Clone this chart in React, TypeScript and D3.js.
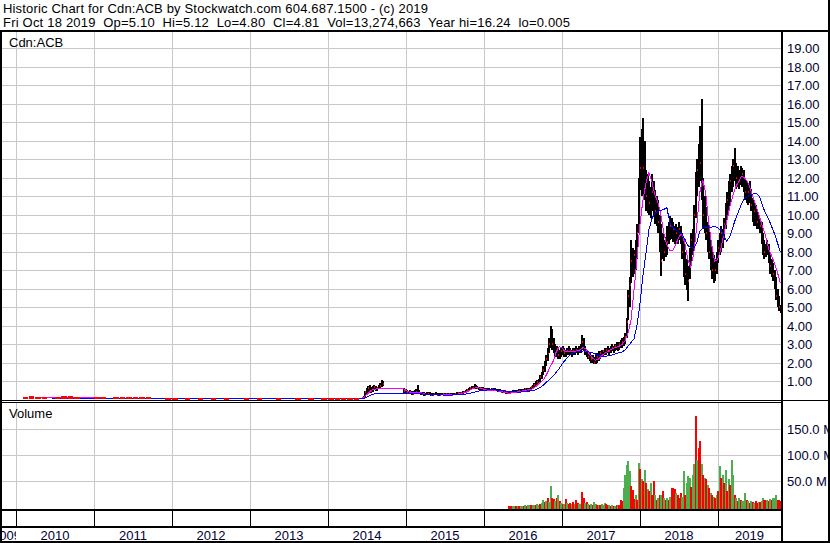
import React from "react";
import * as d3 from "d3";

// ---------- text / tick labels ----------
const TITLE_1 = "Historic Chart for Cdn:ACB by Stockwatch.com 604.687.1500 - (c) 2019";
const TITLE_2 =
  "Fri Oct 18 2019  Op=5.10  Hi=5.12  Lo=4.80  Cl=4.81  Vol=13,274,663  Year hi=16.24  lo=0.005";
const YEARS = [2009, 2010, 2011, 2012, 2013, 2014, 2015, 2016, 2017, 2018, 2019];
const PRICE_TICKS = [1, 2, 3, 4, 5, 6, 7, 8, 9, 10, 11, 12, 13, 14, 15, 16, 17, 18, 19];
const VOLUME_TICKS = [50, 100, 150];

// ---------- early monthly ranges (Feb 2010 .. May 2014), null = no trades ----------
const earlyHigh: (number | null)[] = [
  0.16, 0.17, 0.16, 0.15, null, 0.15, 0.17, 0.18, 0.16, null, null,
  0.13, 0.13, null, 0.12, 0.12, 0.11, 0.12, 0.12, 0.12, null, null, 0.1,
  0.1, null, 0.08, null, 0.08, null, 0.08, null, 0.08, null, null, 0.06,
  null, 0.06, null, null, 0.06, null, null, 0.06, null, 0.06, null, 0.06,
  0.08, 0.08, 0.1, 0.1, 0.1,
];
const earlyLow: (number | null)[] = [
  0.03, 0.04, 0.04, 0.03, null, 0.04, 0.05, 0.05, 0.04, null, null,
  0.03, 0.03, null, 0.03, 0.03, 0.02, 0.03, 0.02, 0.02, null, null, 0.02,
  0.02, null, 0.02, null, 0.02, null, 0.02, null, 0.01, null, null, 0.01,
  null, 0.01, null, null, 0.01, null, null, 0.01, null, 0.01, null, 0.01,
  0.02, 0.02, 0.03, 0.03, 0.04,
];

// ---------- weekly bars from 2014-06-13 to 2019-10-18 ----------
const N13 = [null, null, null, null, null, null, null, null, null, null, null, null, null];
const weekHigh: (number | null)[] = [
  0.2, 0.45, 0.62, 0.75, 0.78, 0.7, 0.72, 0.78, 0.75, 0.7, 0.8, 0.9, 1.05, 1.0,
  ...N13,
  0.62, 0.55, 0.5, 0.48, 0.5, 0.45, 0.45, 0.5, 0.55, 0.78,
  0.5, 0.42, 0.4, 0.38, 0.35, 0.38, 0.4, 0.38, 0.35, 0.35, 0.36, 0.38, 0.36, 0.35, 0.34, 0.36,
  0.35, 0.34, 0.35, 0.36, 0.35, 0.34, 0.33, 0.34, 0.36, 0.38, 0.38, 0.4, 0.42, 0.45, 0.48, 0.5, 0.55,
  0.6, 0.68, 0.72, 0.75, 0.84, 0.8, 0.75, 0.7,
  0.68, 0.66, 0.65, 0.62, 0.6, 0.62, 0.6, 0.58, 0.6, 0.62, 0.6, 0.58, 0.56, 0.55, 0.52, 0.5, 0.48, 0.46, 0.45, 0.45,
  0.46, 0.48, 0.5, 0.52, 0.5, 0.52, 0.55, 0.55, 0.56, 0.58, 0.6, 0.62, 0.6, 0.62, 0.7,
  0.8, 0.9, 1.0, 1.05, 1.1, 1.3, 1.5, 1.8, 2.1, 2.4, 2.8, 3.3, 4.0, 3.8, 3.3,
  3.0, 2.9, 2.8, 2.7, 2.8, 2.9, 2.8, 2.7, 2.8, 2.9, 2.8, 2.7, 2.8, 2.8, 2.9, 2.8, 2.9, 3.0,
  3.5, 3.3, 2.9, 2.7,
  2.6, 2.5, 2.4, 2.4, 2.3, 2.4, 2.5, 2.6, 2.6, 2.7, 2.7,
  2.8, 2.8, 2.9, 2.8, 2.9, 3.0, 2.9, 3.0, 3.1, 3.0, 3.1, 3.2, 3.3, 3.4, 3.6,
  4.4, 5.9, 6.6, 8.6, 8.2, 8.1, 8.6, 9.5, 12.0, 14.2, 14.6, 15.2, 14.0,
  12.4, 12.2, 11.8, 11.5, 12.2, 11.8, 11.3, 11.0, 10.8, 10.0, 9.5,
  9.0, 8.6, 8.8, 9.4, 9.6, 9.9, 9.8, 9.6, 9.4, 9.5, 9.3, 9.6, 9.4,
  9.0, 8.6, 8.0, 7.6, 7.2, 8.2, 9.0, 9.2, 10.5, 12.3, 13.0,
  13.8, 14.8, 16.24, 12.0, 11.0, 10.4, 9.6, 9.2, 8.6, 8.1, 7.8, 7.6,
  8.0, 8.6, 9.0, 9.4, 9.2, 9.8, 10.6, 11.2, 11.8, 12.2, 12.6, 13.0,
  13.6, 12.8, 12.6, 12.4, 12.6, 12.5, 12.4, 12.0, 11.8, 11.6, 11.8, 11.4,
  10.9, 10.6, 10.5, 10.2, 10.0, 9.8, 9.6, 9.0, 8.6, 8.4, 8.6,
  8.4, 7.8, 7.6, 7.4, 7.0, 6.6, 6.0, 5.6, 5.12,
];
const weekLow: (number | null)[] = [
  0.05, 0.12, 0.3, 0.4, 0.45, 0.35, 0.4, 0.5, 0.45, 0.45, 0.55, 0.6, 0.7, 0.75,
  ...N13,
  0.35, 0.32, 0.3, 0.28, 0.3, 0.25, 0.24, 0.28, 0.3, 0.35,
  0.3, 0.25, 0.22, 0.2, 0.2, 0.22, 0.25, 0.22, 0.2, 0.2, 0.22, 0.24, 0.22, 0.2, 0.2, 0.22,
  0.24, 0.24, 0.25, 0.26, 0.25, 0.24, 0.24, 0.25, 0.26, 0.28, 0.28, 0.3, 0.3, 0.32, 0.35, 0.38, 0.4,
  0.45, 0.5, 0.55, 0.55, 0.6, 0.58, 0.55, 0.52,
  0.5, 0.5, 0.48, 0.46, 0.45, 0.48, 0.46, 0.44, 0.45, 0.48, 0.46, 0.44, 0.42, 0.4, 0.38, 0.36, 0.34, 0.32, 0.3, 0.3,
  0.32, 0.33, 0.35, 0.36, 0.36, 0.38, 0.4, 0.42, 0.42, 0.44, 0.45, 0.46, 0.45, 0.48, 0.5,
  0.55, 0.65, 0.7, 0.8, 0.85, 0.95, 1.1, 1.3, 1.5, 1.8, 2.1, 2.5, 2.8, 2.7, 2.5,
  2.3, 2.3, 2.2, 2.2, 2.3, 2.4, 2.3, 2.3, 2.4, 2.4, 2.4, 2.3, 2.4, 2.4, 2.5, 2.4, 2.5, 2.5,
  2.7, 2.6, 2.4, 2.3,
  2.2, 2.1, 2.0, 2.0, 1.9, 1.9, 2.0, 2.1, 2.2, 2.3, 2.3,
  2.4, 2.4, 2.5, 2.4, 2.5, 2.6, 2.5, 2.6, 2.7, 2.6, 2.7, 2.8, 2.8, 2.9, 3.0,
  3.3, 4.3, 5.0, 6.3, 6.6, 6.8, 7.0, 7.6, 9.0, 11.3, 11.0, 11.0, 10.8,
  10.2, 10.1, 10.0, 9.8, 10.2, 10.0, 9.5, 9.4, 9.0, 8.0, 6.7,
  7.6, 7.5, 7.7, 7.8, 8.4, 8.6, 8.7, 8.5, 8.4, 8.5, 8.4, 8.6, 8.4,
  7.6, 6.6, 6.2, 5.9, 5.3, 6.5, 7.5, 7.8, 8.3, 9.8, 11.0,
  11.5, 11.8, 10.8, 9.2, 9.0, 8.6, 8.0, 7.6, 7.0, 6.5, 6.3, 6.4,
  6.8, 7.4, 7.8, 8.0, 8.2, 8.6, 9.2, 9.8, 10.2, 10.6, 11.2, 11.5,
  11.8, 11.4, 11.5, 11.4, 11.6, 11.5, 11.2, 10.8, 10.6, 10.5, 10.6, 10.2,
  9.6, 9.4, 9.4, 9.2, 9.2, 9.0, 8.4, 7.8, 7.6, 7.7, 7.8,
  7.4, 6.8, 6.6, 6.4, 6.0, 5.4, 5.0, 4.8, 4.7,
];
const weekClose: (number | null)[] = [
  0.15, 0.4, 0.5, 0.6, 0.55, 0.45, 0.6, 0.65, 0.55, 0.6, 0.7, 0.75, 0.9, 0.85,
  ...N13,
  0.45, 0.4, 0.38, 0.35, 0.4, 0.32, 0.3, 0.35, 0.4, 0.45,
  0.35, 0.3, 0.28, 0.25, 0.25, 0.3, 0.3, 0.27, 0.25, 0.24, 0.28, 0.3, 0.26, 0.25, 0.24, 0.28,
  0.3, 0.28, 0.3, 0.32, 0.3, 0.28, 0.27, 0.3, 0.32, 0.33, 0.34, 0.35, 0.36, 0.4, 0.42, 0.45, 0.5,
  0.55, 0.6, 0.65, 0.62, 0.7, 0.65, 0.6, 0.58,
  0.6, 0.58, 0.55, 0.5, 0.52, 0.55, 0.52, 0.5, 0.55, 0.55, 0.52, 0.48, 0.46, 0.45, 0.42, 0.4, 0.38, 0.36, 0.34, 0.35,
  0.38, 0.4, 0.42, 0.45, 0.42, 0.46, 0.48, 0.5, 0.48, 0.52, 0.55, 0.56, 0.52, 0.58, 0.65,
  0.7, 0.8, 0.9, 0.95, 1.0, 1.2, 1.4, 1.6, 1.9, 2.2, 2.5, 3.0, 3.4, 3.0, 2.7,
  2.5, 2.6, 2.4, 2.5, 2.6, 2.7, 2.5, 2.5, 2.6, 2.7, 2.6, 2.5, 2.6, 2.7, 2.7, 2.6, 2.7, 2.8,
  3.1, 2.8, 2.6, 2.5,
  2.3, 2.2, 2.2, 2.1, 2.0, 2.2, 2.3, 2.4, 2.5, 2.5, 2.6,
  2.6, 2.7, 2.7, 2.6, 2.8, 2.8, 2.7, 2.9, 2.9, 2.8, 3.0, 3.0, 3.1, 3.2, 3.4,
  4.2, 5.6, 6.2, 7.5, 7.4, 7.8, 8.0, 9.0, 11.5, 12.5, 13.0, 12.5, 12.0,
  11.0, 11.5, 10.6, 10.8, 11.2, 10.5, 10.2, 10.0, 9.6, 8.5, 7.5,
  8.2, 8.0, 8.2, 8.5, 9.2, 9.4, 9.0, 9.2, 8.8, 9.0, 8.9, 9.2, 8.8,
  8.0, 7.0, 6.8, 6.5, 6.4, 7.8, 8.6, 8.4, 10.0, 11.8, 12.4,
  13.0, 12.8, 11.5, 10.0, 9.6, 9.0, 8.4, 8.0, 7.4, 7.0, 6.8, 7.0,
  7.6, 8.2, 8.4, 9.0, 8.8, 9.5, 10.2, 10.8, 11.0, 11.8, 12.2, 12.6,
  12.2, 12.0, 12.2, 11.8, 12.0, 12.2, 11.6, 11.2, 11.0, 11.2, 11.4, 10.5,
  10.0, 10.2, 9.8, 9.6, 9.6, 9.4, 8.6, 8.2, 8.0, 8.2, 8.4,
  7.6, 7.2, 7.0, 6.8, 6.4, 5.6, 5.2, 5.0, 4.81,
];

// ---------- moving averages ----------
// early monthly (Feb 2010 .. Dec 2013)
const ma1Early: (number | null)[] = [
  null, null, 0.12, 0.12, 0.12, 0.12, 0.12, 0.12, 0.12, 0.12, 0.12, 0.12,
  0.1, 0.1, 0.1, 0.1, 0.1, 0.1, 0.1, 0.1, 0.1, 0.1, 0.1, 0.1,
  0.08, 0.08, 0.08, 0.08, 0.08, 0.08, 0.08, 0.08, 0.08, 0.08, 0.08, 0.08,
  0.07, 0.07, 0.07, 0.07, 0.07, 0.07, 0.07, 0.07, 0.07, 0.07, 0.07,
];
const ma2Early: (number | null)[] = [
  null, null, null, null, 0.07, 0.07, 0.07, 0.07, 0.07, 0.07, 0.07, 0.07,
  0.07, 0.07, 0.07, 0.07, 0.07, 0.07, 0.07, 0.07, 0.07, 0.07, 0.07, 0.07,
  0.06, 0.06, 0.06, 0.06, 0.06, 0.06, 0.06, 0.06, 0.06, 0.06, 0.06, 0.06,
  0.06, 0.06, 0.06, 0.06, 0.06, 0.06, 0.06, 0.06, 0.06, 0.06, 0.06,
];
// biweekly from 2014-01-03
const ma1: number[] = [
  0.1, 0.1, 0.1, 0.1, 0.1, 0.1, 0.1, 0.1, 0.1, 0.1, 0.1, 0.1,
  0.2, 0.35, 0.5, 0.58, 0.6, 0.6, 0.6,
  0.6, 0.6, 0.6, 0.6, 0.6, 0.6, 0.6,
  0.5, 0.42, 0.4, 0.4, 0.42, 0.38, 0.33, 0.3, 0.3, 0.28, 0.28, 0.28, 0.29, 0.29, 0.3, 0.29, 0.3, 0.32, 0.34, 0.38, 0.43, 0.52, 0.6, 0.66,
  0.65, 0.62, 0.56, 0.53, 0.52, 0.53, 0.52, 0.48, 0.44, 0.4, 0.37, 0.38, 0.41, 0.44, 0.47, 0.5, 0.53, 0.56, 0.6, 0.7, 0.85, 1.0, 1.15, 1.45, 1.8, 2.1,
  2.6, 2.9, 2.8, 2.6, 2.6, 2.6, 2.6, 2.65, 2.7, 2.85, 2.75, 2.5, 2.3, 2.15, 2.2, 2.35, 2.5, 2.6, 2.7, 2.8, 2.85, 2.9, 3.0, 3.2,
  3.6, 4.3, 5.9, 7.6, 9.5, 10.8, 11.7, 12.3, 11.8, 11.1, 10.7, 10.0, 9.0, 8.4, 8.1, 8.1, 8.4, 8.8, 9.0, 8.5,
  7.6, 7.2, 7.9, 9.4, 11.2, 11.9, 11.2, 9.6, 8.4, 7.5, 7.6, 8.1, 8.9, 9.6, 10.4, 11.0, 11.5, 11.8, 12.1, 12.0,
  11.8, 11.4, 10.9, 10.4, 9.9, 9.4, 8.9, 8.2, 7.8, 7.4, 6.9, 6.3,
];
const ma2: number[] = [
  0.06, 0.06, 0.06, 0.06, 0.06, 0.06, 0.06, 0.06, 0.06, 0.06, 0.06, 0.06,
  0.1, 0.18, 0.26, 0.32, 0.34, 0.35, 0.36,
  0.36, 0.36, 0.36, 0.36, 0.36, 0.36, 0.36,
  0.38, 0.36, 0.34, 0.34, 0.33, 0.33, 0.32, 0.31, 0.3, 0.29, 0.28, 0.28, 0.27, 0.27, 0.27, 0.27, 0.28, 0.29, 0.3, 0.31, 0.33, 0.36, 0.4, 0.44,
  0.48, 0.51, 0.53, 0.54, 0.55, 0.55, 0.54, 0.53, 0.51, 0.49, 0.47, 0.45, 0.44, 0.43, 0.43, 0.44, 0.46, 0.48, 0.5, 0.55, 0.62, 0.72, 0.85, 1.0, 1.15, 1.3,
  1.5, 1.7, 1.95, 2.15, 2.35, 2.5, 2.58, 2.6, 2.62, 2.65, 2.65, 2.6, 2.55, 2.5, 2.42, 2.38, 2.36, 2.38, 2.4, 2.45, 2.5, 2.55, 2.6, 2.7,
  2.9, 3.1, 3.3, 4.0, 5.2, 6.7, 7.9, 9.2, 9.8, 10.1, 10.2, 10.25, 10.3, 10.4, 9.6, 9.3, 9.2, 9.1, 9.0, 8.7,
  8.35, 8.25, 8.2, 8.5, 9.1, 9.3, 9.3, 9.35, 9.35, 9.4, 9.3, 9.2, 8.9, 8.6, 8.8, 9.3, 9.8, 10.2, 10.6, 10.9,
  11.0, 11.1, 11.15, 11.15, 11.0, 10.5, 10.1, 9.8, 9.4, 9.0, 8.5, 8.0,
];

// ---------- weekly volume (millions) from 2016-04-22; up = 1 (green), down = 0 (red) ----------
const volume: number[] = [
  0.5, 1, 1, 0.5, 0.5, 0.5, 1, 1, 0.5, 1,
  1, 2, 1.5, 3, 2, 3, 2, 3, 2, 4,
  3, 4, 6, 13, 8, 10, 17, 8, 40, 17,
  15, 10, 16, 22, 10, 6, 4, 5, 14, 6,
  4, 6, 5, 8, 4, 12, 6, 5, 4, 28,
  17, 6, 8, 5, 3, 4, 3, 9, 4, 3,
  2, 3, 4, 3, 6, 5, 2, 2, 1, 2,
  1, 1.5, 3, 3, 2, 13, 10, 35, 61, 80,
  87, 68, 40, 32, 14, 22, 12, 83, 72, 53,
  49, 70, 45, 33, 30, 45, 23, 50, 23, 12,
  17, 23, 23, 30, 17, 12, 17, 12, 19, 36,
  36, 33, 26, 23, 17, 26, 19, 68, 23, 45,
  58, 55, 38, 61, 81, 174, 90, 113, 126, 81,
  61, 55, 52, 42, 36, 26, 23, 19, 17, 23,
  30, 78, 55, 61, 45, 70, 30, 52, 42, 90,
  61, 23, 17, 10, 17, 12, 10, 10, 26, 13,
  10, 7, 10, 9, 7, 10, 7, 9, 8, 10,
  16, 12, 12, 13, 10, 15, 12, 17, 17, 23,
  13, 12, 10,
];
const volumeUp: number[] = [
  0, 0, 0, 1, 1, 0, 1, 0, 1, 1,
  0, 1, 0, 1, 1, 0, 1, 1, 0, 1,
  1, 0, 1, 1, 0, 1, 0, 1, 1, 0,
  0, 1, 0, 1, 0, 1, 0, 1, 0, 1,
  0, 0, 1, 0, 1, 0, 0, 1, 1, 0,
  0, 1, 0, 1, 0, 1, 0, 1, 1, 0,
  1, 0, 1, 1, 1, 0, 0, 1, 0, 1,
  0, 1, 0, 1, 0, 0, 0, 1, 1, 1,
  1, 1, 0, 0, 0, 1, 0, 1, 0, 1,
  0, 1, 0, 1, 0, 1, 0, 0, 1, 0,
  1, 0, 1, 0, 1, 0, 1, 0, 1, 0,
  0, 0, 1, 0, 0, 0, 1, 1, 0, 1,
  1, 1, 0, 1, 1, 0, 1, 0, 0, 1,
  0, 1, 0, 1, 0, 1, 0, 1, 0, 1,
  0, 1, 0, 1, 0, 1, 0, 1, 0, 1,
  1, 0, 1, 0, 1, 0, 1, 1, 1, 0,
  1, 0, 1, 0, 1, 0, 0, 1, 0, 1,
  1, 0, 0, 1, 0, 1, 0, 1, 1, 1,
  0, 0, 0,
];

const FONT = "'Liberation Sans', Arial, Helvetica, sans-serif";
const GRID = "#c8c8c8";
const LABEL = "#000033";
const UP = "#4cae4c";
const DOWN = "#ff0000";

export default function App() {
  const x = d3.scaleTime().domain([new Date(2009, 9, 27), new Date(2019, 9, 23)]).range([2, 781]);
  const y = d3.scaleLinear().domain([0, 19.92]).range([399.5, 31]);
  const yv = d3.scaleLinear().domain([0, 201]).range([506.5, 402]);

  const px = (d: Date) => Math.round(x(d));
  const yearX = (yr: number) => px(new Date(yr, 0, 1));

  const earlyDate = (k: number) => new Date(2010, 1 + k, 1);
  const weekDate = (k: number) => d3.timeDay.offset(new Date(2014, 5, 13), 7 * k);
  const volDate = (k: number) => d3.timeDay.offset(new Date(2016, 3, 22), 7 * k);

  const maLine = (early: (number | null)[], late: number[]) => {
    const pts: [Date, number | null][] = [
      ...early.map((v, k) => [new Date(2010, 1 + k, 15), v] as [Date, number | null]),
      ...late.map((v, j) => [d3.timeDay.offset(new Date(2014, 0, 3), 14 * j), v] as [Date, number | null]),
    ];
    return d3
      .line<[Date, number | null]>()
      .defined((d) => d[1] != null)
      .x((d) => x(d[0]) + 0.5)
      .y((d) => y(d[1] as number) + 0.5)(pts) as string;
  };

  const gridYears = YEARS.filter((yr) => yr >= 2010);

  return (
    <svg
      width={830}
      height={543}
      style={{ position: "absolute", left: 0, top: 0, display: "block" }}
      fontFamily={FONT}
    >
      <defs>
        <clipPath id="y2009">
          <rect x={0} y={527} width={yearX(2010)} height={16} />
        </clipPath>
      </defs>
      <rect x={0} y={0} width={830} height={543} fill="#fff" />

      {/* grid */}
      <g shapeRendering="crispEdges" stroke={GRID} strokeWidth={1}>
        {PRICE_TICKS.map((v) => (
          <line key={"pg" + v} x1={2} x2={781} y1={Math.round(y(v)) + 0.5} y2={Math.round(y(v)) + 0.5} />
        ))}
        {VOLUME_TICKS.map((v) => (
          <line key={"vg" + v} x1={2} x2={781} y1={Math.round(yv(v)) + 0.5} y2={Math.round(yv(v)) + 0.5} />
        ))}
        {gridYears.map((yr) => (
          <g key={"xg" + yr}>
            <line x1={yearX(yr) + 0.5} x2={yearX(yr) + 0.5} y1={32} y2={400} />
            <line x1={yearX(yr) + 0.5} x2={yearX(yr) + 0.5} y1={403} y2={509} />
          </g>
        ))}
      </g>

      {/* weekly price bars: black high-low bar with red close tick */}
      <g shapeRendering="crispEdges">
        {weekHigh.map((h, k) => {
          const l = weekLow[k];
          const c = weekClose[k];
          if (h == null || l == null || c == null) return null;
          const bx = px(weekDate(k));
          const top = Math.round(y(h));
          const bot = Math.round(y(l));
          return (
            <g key={"w" + k}>
              <rect x={bx} y={top} width={2} height={Math.max(1, bot - top)} fill="#000" />
              <rect x={bx + 1} y={Math.round(y(c)) - 1} width={1} height={2} fill={DOWN} />
            </g>
          );
        })}
      </g>

      {/* moving averages */}
      <path d={maLine(ma1Early, ma1)} fill="none" stroke="#ff00ff" strokeWidth={1} shapeRendering="crispEdges" />
      <path d={maLine(ma2Early, ma2)} fill="none" stroke="#0000ff" strokeWidth={1} shapeRendering="crispEdges" />

      {/* early thin trading */}
      <g shapeRendering="crispEdges" fill={DOWN}>
        {earlyHigh.map((h, k) => {
          const l = earlyLow[k];
          if (h == null || l == null) return null;
          const x0 = px(earlyDate(k));
          const x1 = px(earlyDate(k + 1));
          const top = Math.round(y(h));
          return <rect key={"e" + k} x={x0} width={Math.max(1, x1 - x0 - 1)} y={top} height={Math.max(2, Math.round(y(l)) - top)} />;
        })}
      </g>

      {/* volume */}
      <g shapeRendering="crispEdges">
        {volume.map((v, k) => {
          const top = Math.round(yv(v));
          return (
            <rect key={"v" + k} x={px(volDate(k))} y={top} width={2} height={Math.max(0, 509 - top)} fill={volumeUp[k] ? UP : DOWN} />
          );
        })}
      </g>

      {/* frame */}
      <g fill="#000" shapeRendering="crispEdges">
        <rect x={0} y={30} width={830} height={2} />
        <rect x={781} y={30} width={2} height={513} />
        <rect x={828} y={0} width={2} height={543} />
        <rect x={0} y={31} width={2} height={512} />
        <rect x={0} y={400} width={830} height={1} />
        <rect x={0} y={402} width={781} height={1} />
        <rect x={0} y={509} width={781} height={2} />
        <rect x={0} y={526} width={781} height={2} />
        <rect x={0} y={541} width={830} height={2} />
        {gridYears.map((yr) => (
          <rect key={"t" + yr} x={yearX(yr)} y={511} width={1} height={15} />
        ))}
      </g>

      {/* texts */}
      <text x={3} y={13} fontSize={13} fill="#000" textLength={425} lengthAdjust="spacing">
        {TITLE_1}
      </text>
      <text x={3} y={27} fontSize={13} fill="#000" xmlSpace="preserve" style={{ whiteSpace: "pre" }} textLength={567} lengthAdjust="spacing">
        {TITLE_2}
      </text>
      <text x={9} y={47} fontSize={13} fill="#000">Cdn:ACB</text>
      <text x={9} y={418} fontSize={13} fill="#000">Volume</text>

      {PRICE_TICKS.map((v) => (
        <text key={"pl" + v} x={787} y={Math.round(y(v)) + 5} fontSize={13} fill={LABEL}>
          {v.toFixed(2)}
        </text>
      ))}
      {VOLUME_TICKS.map((v) => (
        <text key={"vl" + v} x={787} y={Math.round(yv(v)) + 5} fontSize={13} fill={LABEL}>
          {v.toFixed(1) + " M"}
        </text>
      ))}

      {YEARS.map((yr) => {
        if (yr === 2009) {
          return (
            <text key={"yl" + yr} x={yearX(2010) + 5} y={540} fontSize={13} fill={LABEL} textAnchor="end" clipPath="url(#y2009)">
              {yr}
            </text>
          );
        }
        const a = yearX(yr);
        const b = yr === 2019 ? 781 : yearX(yr + 1);
        return (
          <text key={"yl" + yr} x={(a + b) / 2} y={540} fontSize={13} fill={LABEL} textAnchor="middle">
            {yr}
          </text>
        );
      })}
    </svg>
  );
}
